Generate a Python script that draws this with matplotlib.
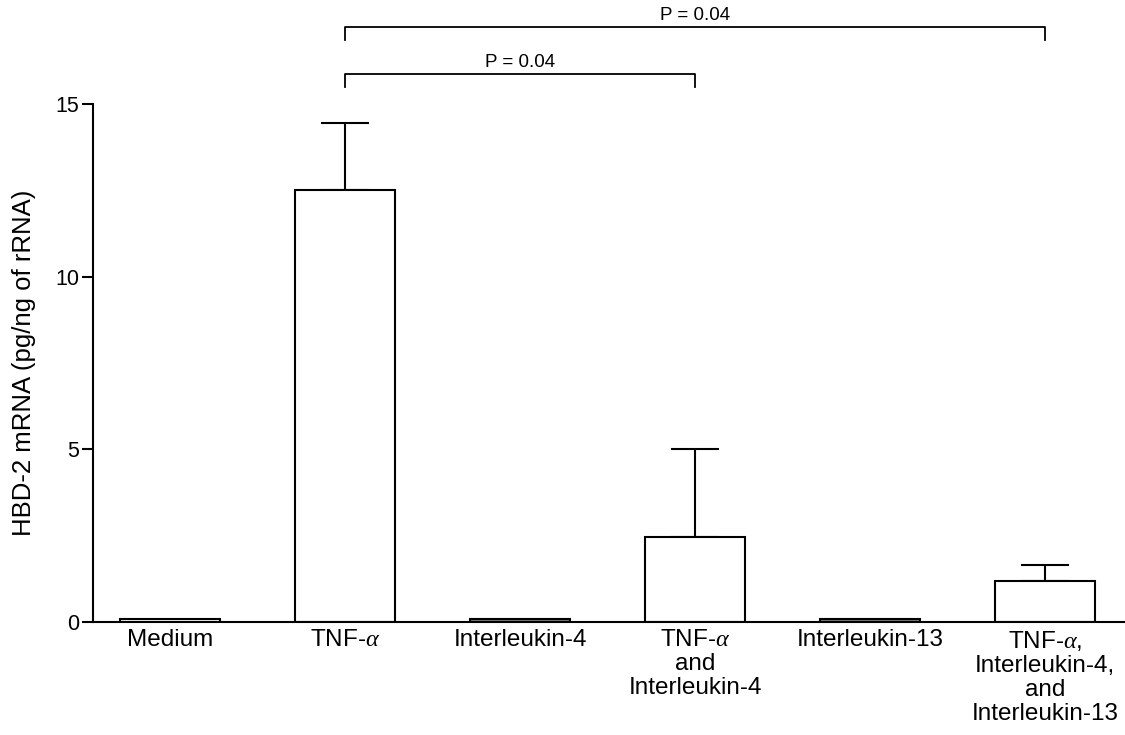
import matplotlib
matplotlib.use('Agg')
import matplotlib.pyplot as plt
import numpy as np

plt.rcParams['font.family'] = ['Liberation Sans', 'DejaVu Sans']
plt.rcParams['mathtext.fontset'] = 'custom'
plt.rcParams['mathtext.it'] = 'Liberation Serif:italic'

# data
groups = ['Medium', 'TNF-$\\alpha$', 'Interleukin-4',
          'TNF-$\\alpha$\nand\nInterleukin-4', 'Interleukin-13',
          'TNF-$\\alpha$,\nInterleukin-4,\nand\nInterleukin-13']
means = [0.10, 12.52, 0.08, 2.47, 0.08, 1.19]
errors = [0, 1.92, 0, 2.53, 0, 0.47]
fills = ['white', 'white', '#808080', 'white', '#808080', 'white']

# significance brackets: (from, to, label, height)
brackets = [(1, 5, 'P = 0.04', 17.22), (1, 3, 'P = 0.04', 15.87)]

fig = plt.figure(figsize=(11.25, 7.35), dpi=100)
ax = fig.add_axes([93 / 1125, 1 - 622 / 735, 1 - 93 / 1125, (622 - 104) / 735])

x = np.arange(len(groups))
ax.bar(x, means, width=0.571, color=fills, edgecolor='black', linewidth=1.5, zorder=2)
for xi, m, e in zip(x, means, errors):
    if e > 0:
        ax.errorbar(xi, m, yerr=[[0], [e]], fmt='none', ecolor='black',
                    elinewidth=1.5, capsize=17, capthick=1.5, zorder=1)

for a, b, lab, yb in brackets:
    ax.plot([a, a, b, b], [yb - 0.38, yb, yb, yb - 0.38], color='black',
            lw=1.3, clip_on=False)
    ax.text((a + b) / 2, yb + 0.1, lab, ha='center', va='bottom', fontsize=13.5)

ax.set_xlim(-0.44, 5.457)
ax.set_ylim(0, 15)
ax.set_yticks([0, 5, 10, 15])
ax.set_xticks(x)
ax.set_xticklabels(groups, fontsize=17.5, linespacing=1.12)
ax.tick_params(axis='x', length=0, pad=5)
ax.tick_params(axis='y', length=8, width=1.5, labelsize=15.5, pad=2)
ax.set_ylabel('HBD-2 mRNA (pg/ng of rRNA)', fontsize=18.5, labelpad=14)
for s in ['top', 'right']:
    ax.spines[s].set_visible(False)
ax.spines['left'].set_linewidth(1.5)
ax.spines['bottom'].set_linewidth(1.5)

fig.savefig('out.png', dpi=100)
